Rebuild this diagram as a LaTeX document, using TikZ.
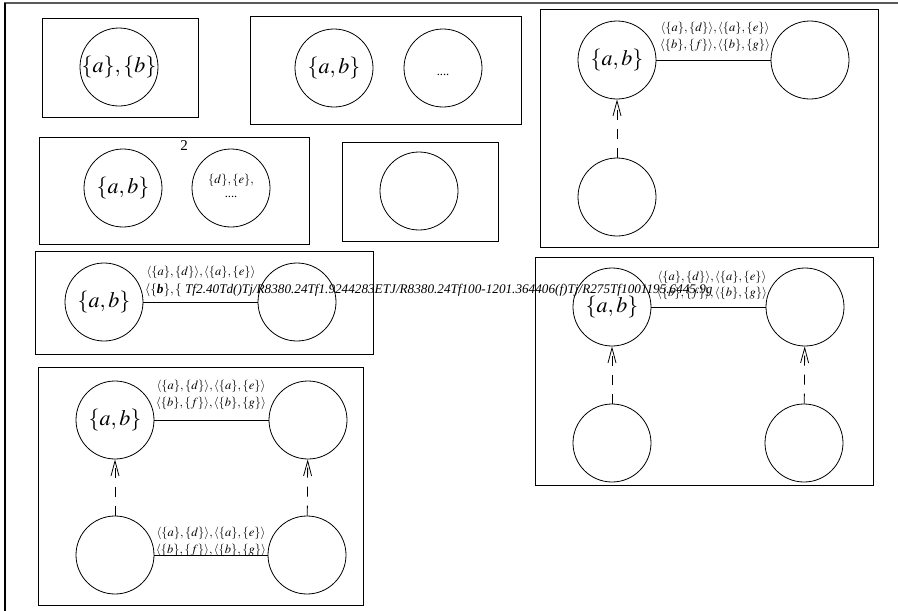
\documentclass[tikz,border=0pt]{standalone}
\usepackage{mathptmx}
\usepackage{fontspec}
\setmainfont{Liberation Serif}
\usetikzlibrary{arrows.meta}
\tikzset{
  st/.style={circle, draw, line width=0.8pt, minimum size=78pt, inner sep=0pt},
  frame/.style={draw, line width=0.8pt},
  big/.style={font=\fontsize{22}{26}\selectfont, inner sep=0pt},
  lbl/.style={font=\fontsize{12.5}{14}\selectfont, inner sep=0pt},
  tiny/.style={font=\fontsize{12.5}{14}\selectfont, inner sep=0pt},
  junk/.style={font=\fontsize{13.2}{15}\selectfont\itshape, inner sep=0pt},
  edge/.style={draw, line width=0.8pt},
  dep/.style={draw, line width=0.8pt, dash pattern=on 10pt off 9pt, -{Straight Barb[length=15pt,width=8pt]}},
}
\newcommand{\lad}{$\langle\{a\},\{d\}\rangle,\langle\{a\},\{e\}\rangle$}
\newcommand{\lbf}{$\langle\{b\},\{f\}\rangle,\langle\{b\},\{g\}\rangle$}
\begin{document}
\begin{tikzpicture}[x=1pt,y=-1pt]
\useasboundingbox (0,0) rectangle (898,611);
% outer frame
\draw[line width=1.5pt, black!65] (4,3) -- (898,3);
\draw[line width=1.2pt] (5,3) -- (5,611);

% box 1
\draw[frame] (42,18) rectangle (198,117);
\node[st] (b1a) at (119,67) {};
\node[big] (t1a) at (b1a) {$\{a\},\{b\}$};

% box 2
\draw[frame] (250,16) rectangle (521,124);
\node[st] (b2a) at (334,68) {};
\node[st] (b2b) at (443,68) {};
\node[big] (t2a) at (b2a) {$\{a,b\}$};
\node[lbl] (t2b) at (443,75) {....};

% box 3
\draw[frame] (39,137) rectangle (309,244);
\node[st] (b3a) at (123,188) {};
\node[st] (b3b) at (231,188) {};
\node[big] (t3a) at (b3a) {$\{a,b\}$};
\node[font=\fontsize{15}{17}\selectfont, inner sep=0pt] (two) at (184,146) {2};
\node[tiny] (t3b) at (231,180) {$\{d\},\{e\},$};
\node[lbl] (t3c) at (231,197) {....};

% box 4
\draw[frame] (342,142) rectangle (498,241);
\node[st] (b4a) at (419,191) {};

% box 5
\draw[frame] (35,251) rectangle (373,354);
\node[st] (b5a) at (104,302) {};
\node[st] (b5b) at (297,302) {};
\node[big] (t5a) at (b5a) {$\{a,b\}$};
\path[edge] (b5a) -- (b5b);
\node[lbl] (l5a) at (201,272) {\lad};

% box 6
\draw[frame] (38,367) rectangle (363,605);
\node[st] (b6a) at (115,420) {};
\node[st] (b6b) at (308,420) {};
\node[st] (b6c) at (115,555) {};
\node[st] (b6d) at (307,555) {};
\node[big] (t6a) at (b6a) {$\{a,b\}$};
\path[edge] (b6a) -- (b6b);
\path[edge] (b6c) -- (b6d);
\path[dep] (b6c) -- (b6a);
\path[dep] (b6d) -- (b6b);
\node[lbl] (l6a) at (211,386) {\lad};
\node[lbl] (l6b) at (211,403) {\lbf};
\node[lbl] (l6c) at (211,533) {\lad};
\node[lbl] (l6d) at (211,550) {\lbf};

% box 7
\draw[frame] (540,9) rectangle (878,247);
\node[st] (b7a) at (617,60) {};
\node[st] (b7b) at (810,60) {};
\node[st] (b7c) at (617,197) {};
\node[big] (t7a) at (b7a) {$\{a,b\}$};
\path[edge] (b7a) -- (b7b);
\path[dep] (b7c) -- (b7a);
\node[lbl] (l7a) at (715,28) {\lad};
\node[lbl] (l7b) at (715,45) {\lbf};

% box 8
\draw[frame] (535,257) rectangle (873,485);
\node[st] (b8a) at (612,307) {};
\node[st] (b8b) at (805,307) {};
\node[st] (b8c) at (612,443) {};
\node[st] (b8d) at (804,443) {};
\node[big] (t8a) at (b8a) {$\{a,b\}$};
\path[edge] (b8a) -- (b8b);
\path[dep] (b8c) -- (b8a);
\path[dep] (b8d) -- (b8b);
\node[lbl] (l8a) at (712,277) {\lad};
\node[lbl] (l8b) at (712,293) {\lbf};

% garbled label of box 5
\node[junk, anchor=base west] (l5b) at (145,293) {$\langle\{$\textbf{b}$\},\{$ Tf2.40Td()Tj/R8380.24Tf1.9244283ETJ/R8380.24Tf100-1201.364406(f)Tj/R275Tf1001195.6445.9g};
\end{tikzpicture}
\end{document}
